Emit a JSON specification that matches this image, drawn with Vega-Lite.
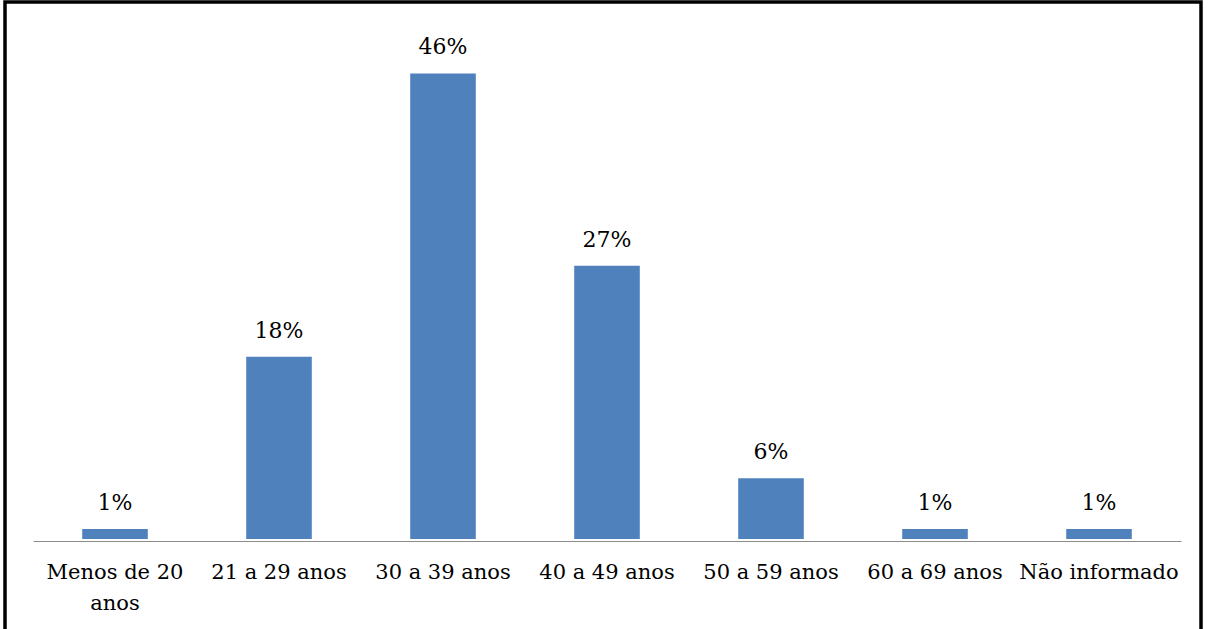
{
  "$schema": "https://vega.github.io/schema/vega-lite/v6.json",
  "autosize": "none",
  "width": 1196,
  "height": 640,
  "padding": {"left": 5, "top": 2, "right": 7, "bottom": 0},
  "background": "white",
  "config": {
    "view": {"stroke": "black", "strokeWidth": 3.5},
    "font": "DejaVu Serif"
  },
  "data": {
    "values": [
      {"faixa": "Menos de 20 anos", "share": 0.01},
      {"faixa": "21 a 29 anos", "share": 0.18},
      {"faixa": "30 a 39 anos", "share": 0.46},
      {"faixa": "40 a 49 anos", "share": 0.27},
      {"faixa": "50 a 59 anos", "share": 0.06},
      {"faixa": "60 a 69 anos", "share": 0.01},
      {"faixa": "Não informado", "share": 0.01}
    ]
  },
  "encoding": {
    "x": {
      "field": "faixa",
      "type": "nominal",
      "sort": null,
      "scale": {"range": [28, 1176], "paddingInner": 0.6, "paddingOuter": 0.3},
      "axis": {
        "title": null,
        "offset": -101,
        "domainColor": "#8c8c8c",
        "domainWidth": 1.2,
        "ticks": false,
        "labelAngle": 0,
        "labelFont": "DejaVu Serif",
        "labelFontSize": 21,
        "labelColor": "black",
        "labelPadding": 20,
        "labelLineHeight": 31,
        "labelLimit": 300,
        "labelExpr": "datum.value == 'Menos de 20 anos' ? ['Menos de 20', 'anos'] : datum.value"
      }
    },
    "y": {
      "field": "share",
      "type": "quantitative",
      "scale": {"domain": [0, 0.5], "range": [537, 31], "nice": false},
      "axis": null
    }
  },
  "layer": [
    {"mark": {"type": "bar", "color": "#4F81BD"}},
    {
      "mark": {
        "type": "text",
        "font": "DejaVu Serif",
        "fontSize": 22,
        "color": "black",
        "baseline": "alphabetic",
        "dy": -19
      },
      "encoding": {
        "text": {"field": "share", "type": "quantitative", "format": ".0%"}
      }
    }
  ]
}
